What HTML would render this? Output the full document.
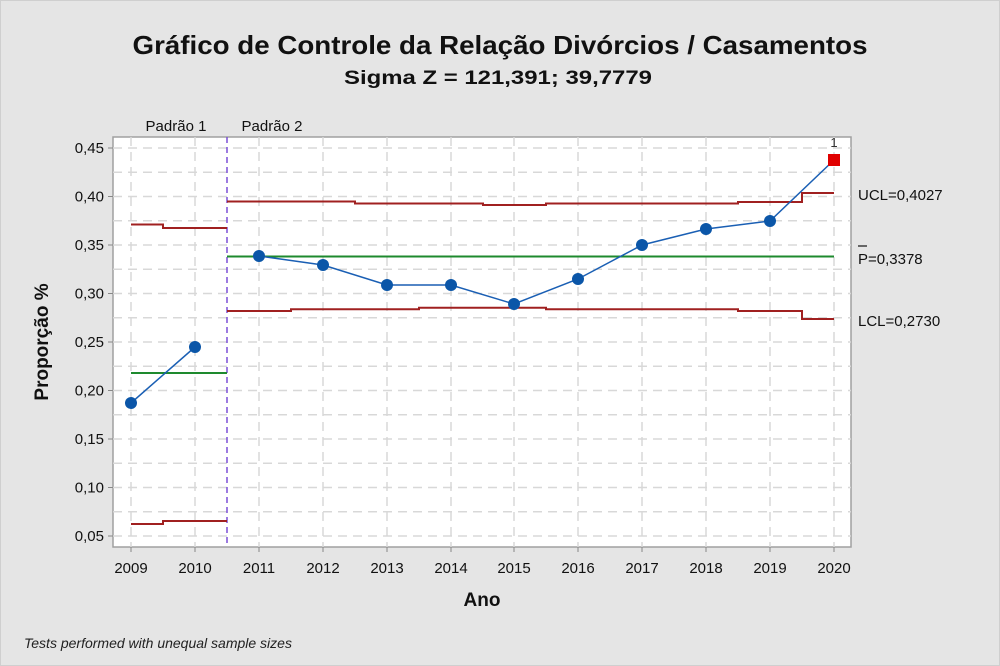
<!DOCTYPE html>
<html><head><meta charset="utf-8"><style>body{margin:0;background:#e6e6e6}svg{display:block}</style></head><body>
<svg width="1000" height="666" xmlns="http://www.w3.org/2000/svg" font-family="Liberation Sans, sans-serif">
<rect x="0" y="0" width="1000" height="666" fill="#e5e5e5" stroke="#cfcfcf" stroke-width="2"/>
<text x="500" y="54" font-size="26" font-weight="bold" text-anchor="middle" textLength="735" lengthAdjust="spacingAndGlyphs" fill="#111">Gráfico de Controle da Relação Divórcios / Casamentos</text>
<text x="498" y="84" font-size="19" font-weight="bold" text-anchor="middle" textLength="308" lengthAdjust="spacingAndGlyphs" fill="#111">Sigma Z = 121,391; 39,7779</text>
<rect x="113" y="137" width="738" height="410" fill="#fff" stroke="#a0a0a0" stroke-width="1.5"/>
<g stroke="#d8d8d8" stroke-width="1.5" stroke-dasharray="9,6">
<line x1="113" x2="851" y1="536" y2="536"/><line x1="113" x2="851" y1="511.75" y2="511.75"/><line x1="113" x2="851" y1="487.5" y2="487.5"/><line x1="113" x2="851" y1="463.25" y2="463.25"/><line x1="113" x2="851" y1="439" y2="439"/><line x1="113" x2="851" y1="414.75" y2="414.75"/><line x1="113" x2="851" y1="390.5" y2="390.5"/><line x1="113" x2="851" y1="366.25" y2="366.25"/><line x1="113" x2="851" y1="342" y2="342"/><line x1="113" x2="851" y1="317.75" y2="317.75"/><line x1="113" x2="851" y1="293.5" y2="293.5"/><line x1="113" x2="851" y1="269.25" y2="269.25"/><line x1="113" x2="851" y1="245" y2="245"/><line x1="113" x2="851" y1="220.75" y2="220.75"/><line x1="113" x2="851" y1="196.5" y2="196.5"/><line x1="113" x2="851" y1="172.25" y2="172.25"/><line x1="113" x2="851" y1="148" y2="148"/>
<line x1="131" x2="131" y1="137" y2="547"/><line x1="195" x2="195" y1="137" y2="547"/><line x1="259" x2="259" y1="137" y2="547"/><line x1="323" x2="323" y1="137" y2="547"/><line x1="387" x2="387" y1="137" y2="547"/><line x1="451" x2="451" y1="137" y2="547"/><line x1="514" x2="514" y1="137" y2="547"/><line x1="578" x2="578" y1="137" y2="547"/><line x1="642" x2="642" y1="137" y2="547"/><line x1="706" x2="706" y1="137" y2="547"/><line x1="770" x2="770" y1="137" y2="547"/><line x1="834" x2="834" y1="137" y2="547"/>
</g>
<g stroke="#888" stroke-width="1">
<line x1="108" x2="113" y1="536" y2="536"/><line x1="108" x2="113" y1="487.5" y2="487.5"/><line x1="108" x2="113" y1="439" y2="439"/><line x1="108" x2="113" y1="390.5" y2="390.5"/><line x1="108" x2="113" y1="342" y2="342"/><line x1="108" x2="113" y1="293.5" y2="293.5"/><line x1="108" x2="113" y1="245" y2="245"/><line x1="108" x2="113" y1="196.5" y2="196.5"/><line x1="108" x2="113" y1="148" y2="148"/>
<line y1="547" y2="552" x1="131" x2="131"/><line y1="547" y2="552" x1="195" x2="195"/><line y1="547" y2="552" x1="259" x2="259"/><line y1="547" y2="552" x1="323" x2="323"/><line y1="547" y2="552" x1="387" x2="387"/><line y1="547" y2="552" x1="451" x2="451"/><line y1="547" y2="552" x1="514" x2="514"/><line y1="547" y2="552" x1="578" x2="578"/><line y1="547" y2="552" x1="642" x2="642"/><line y1="547" y2="552" x1="706" x2="706"/><line y1="547" y2="552" x1="770" x2="770"/><line y1="547" y2="552" x1="834" x2="834"/>
</g>
<line x1="227" x2="227" y1="137" y2="547" stroke="#7b4fd6" stroke-width="1.5" stroke-dasharray="6,4"/>
<g fill="none" stroke="#a02020" stroke-width="2">
<polyline points="131,224.5 163,224.5 163,228 227,228"/>
<polyline points="131,524 163,524 163,521 227,521"/>
<polyline points="227,201.5 355,201.5 355,203.5 483,203.5 483,205 546,205 546,203.5 738,203.5 738,202 802,202 802,193 834,193"/>
<polyline points="227,311 291,311 291,309.3 419,309.3 419,307.7 546,307.7 546,309.3 738,309.3 738,311 802,311 802,319 834,319"/>
</g>
<g stroke="#1e8a2e" stroke-width="2">
<line x1="131" x2="227" y1="373" y2="373"/>
<line x1="227" x2="834" y1="256.5" y2="256.5"/>
</g>
<polyline fill="none" stroke="#1a5fb4" stroke-width="1.5" points="131,403 195,347"/>
<polyline fill="none" stroke="#1a5fb4" stroke-width="1.5" points="259,256 323,265 387,285 451,285 514,304 578,279 642,245 706,229 770,221 834,160"/>
<g fill="#0b56a8">
<circle cx="131" cy="403" r="6"/><circle cx="195" cy="347" r="6"/><circle cx="259" cy="256" r="6"/><circle cx="323" cy="265" r="6"/><circle cx="387" cy="285" r="6"/><circle cx="451" cy="285" r="6"/><circle cx="514" cy="304" r="6"/><circle cx="578" cy="279" r="6"/><circle cx="642" cy="245" r="6"/><circle cx="706" cy="229" r="6"/><circle cx="770" cy="221" r="6"/>
</g>
<rect x="828" y="154" width="12" height="12" fill="#e00000"/>
<text x="834" y="147" font-size="13" text-anchor="middle" fill="#333">1</text>
<g font-size="15" fill="#111" text-anchor="end">
<text x="104" y="541">0,05</text><text x="104" y="492.5">0,10</text><text x="104" y="444">0,15</text><text x="104" y="395.5">0,20</text><text x="104" y="347">0,25</text><text x="104" y="298.5">0,30</text><text x="104" y="250">0,35</text><text x="104" y="201.5">0,40</text><text x="104" y="153">0,45</text>
</g>
<g font-size="15" fill="#111" text-anchor="middle">
<text x="131" y="573">2009</text><text x="195" y="573">2010</text><text x="259" y="573">2011</text><text x="323" y="573">2012</text><text x="387" y="573">2013</text><text x="451" y="573">2014</text><text x="514" y="573">2015</text><text x="578" y="573">2016</text><text x="642" y="573">2017</text><text x="706" y="573">2018</text><text x="770" y="573">2019</text><text x="834" y="573">2020</text>
</g>
<text x="176" y="131" font-size="15" text-anchor="middle" fill="#111">Padrão 1</text>
<text x="272" y="131" font-size="15" text-anchor="middle" fill="#111">Padrão 2</text>
<g font-size="15" fill="#111">
<text x="858" y="200">UCL=0,4027</text>
<text x="858" y="264">P=0,3378</text>
<line x1="858" x2="867" y1="246" y2="246" stroke="#111" stroke-width="1.2"/>
<text x="858" y="326">LCL=0,2730</text>
</g>
<text x="482" y="606" font-size="19" font-weight="bold" text-anchor="middle" fill="#111">Ano</text>
<text transform="translate(48,342) rotate(-90)" font-size="19" font-weight="bold" text-anchor="middle" fill="#111">Proporção %</text>
<text x="24" y="648" font-size="14" font-style="italic" fill="#222">Tests performed with unequal sample sizes</text>
</svg>
</body></html>
